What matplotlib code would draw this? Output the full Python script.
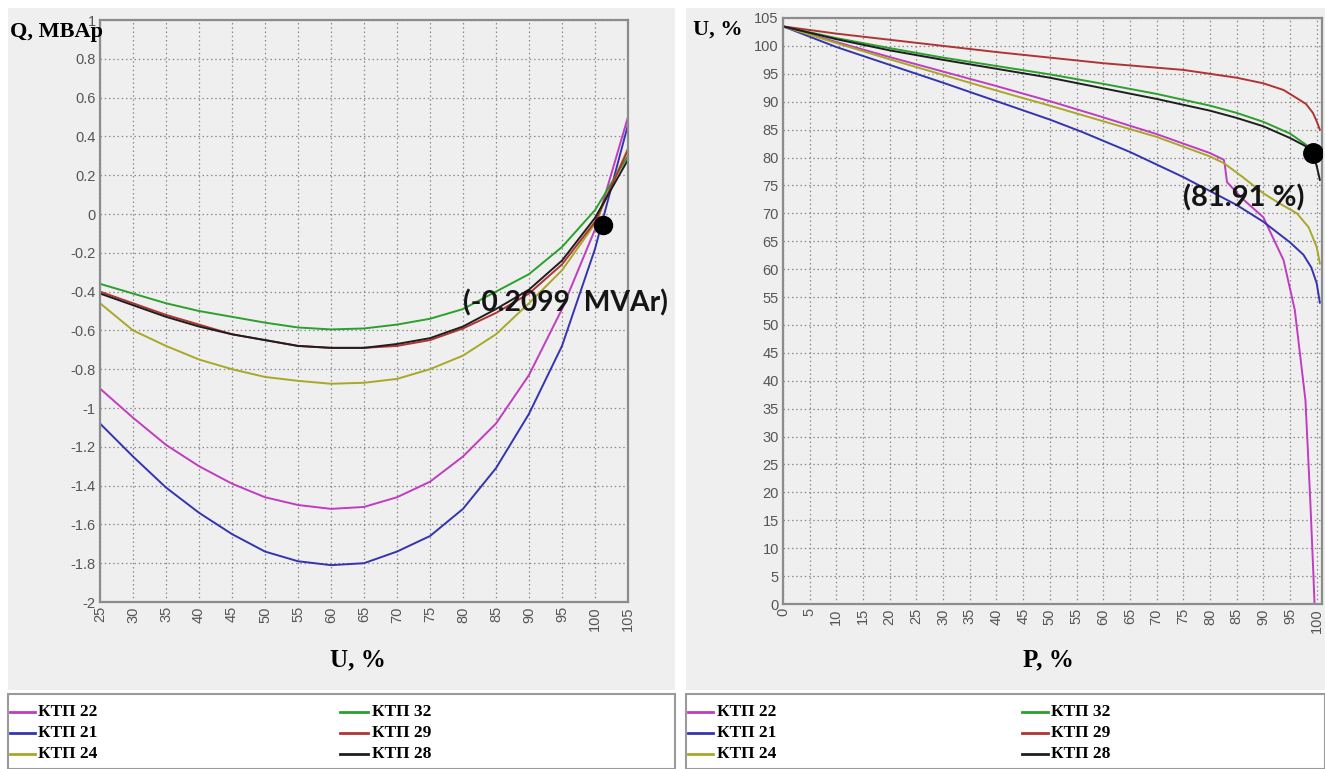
import matplotlib
matplotlib.use('Agg')
import matplotlib.pyplot as plt
from matplotlib.patches import Rectangle
from matplotlib.lines import Line2D
from matplotlib.ticker import FuncFormatter

W, H = 1325, 769

# ---------------- data ----------------
names = ['КТП 22', 'КТП 21', 'КТП 24', 'КТП 32', 'КТП 29', 'КТП 28']
colors = ['#c03cc0', '#3434b0', '#a8a828', '#2ca02c', '#b03434', '#1e1e1e']

# Left chart: Q (MVAr) vs U (%)
u_left = [25, 30, 35, 40, 45, 50, 55, 60, 65, 70, 75, 80, 85, 90, 95, 100, 105]
q_ktp22 = [-0.90, -1.05, -1.19, -1.30, -1.39, -1.46, -1.50, -1.52, -1.51, -1.46, -1.38, -1.25, -1.08, -0.83, -0.49, -0.08, 0.50]
q_ktp21 = [-1.08, -1.25, -1.41, -1.54, -1.65, -1.74, -1.79, -1.81, -1.80, -1.74, -1.66, -1.52, -1.31, -1.03, -0.68, -0.18, 0.46]
q_ktp24 = [-0.46, -0.60, -0.68, -0.75, -0.80, -0.84, -0.86, -0.875, -0.87, -0.85, -0.80, -0.73, -0.62, -0.46, -0.29, -0.05, 0.34]
q_ktp32 = [-0.36, -0.41, -0.46, -0.50, -0.53, -0.56, -0.585, -0.595, -0.59, -0.57, -0.54, -0.49, -0.40, -0.31, -0.17, 0.02, 0.30]
u_ktp29 = [25, 30, 35, 40, 45, 50, 55, 60, 65, 70, 75, 80, 85, 90, 95, 100, 105, 105]
q_ktp29 = [-0.40, -0.46, -0.52, -0.57, -0.62, -0.65, -0.68, -0.69, -0.69, -0.68, -0.65, -0.59, -0.51, -0.41, -0.26, -0.04, 0.33, -0.65]
q_ktp28 = [-0.41, -0.47, -0.53, -0.58, -0.62, -0.65, -0.68, -0.69, -0.69, -0.67, -0.64, -0.58, -0.49, -0.39, -0.24, -0.02, 0.28]
marker_left = (101.2, -0.055)
label_left = '(-0.2099  MVAr)'

# Right chart: U (%) vs P (%)
p_ktp22 = [0, 10, 20, 30, 40, 50, 60, 70, 80, 82.6, 82.8, 83.2, 86, 90, 93.8, 95.9, 97.9, 98.8, 99.4, 99.6]
v_ktp22 = [103.5, 100.7, 98.0, 95.4, 92.8, 90.1, 87.2, 84.2, 80.8, 79.6, 78.6, 75.6, 72.7, 69.3, 61.6, 52.7, 36.5, 18.6, 5.0, 0.0]
p_ktp21 = [0, 10, 20, 30, 40, 50, 56, 65, 75, 85, 90, 95, 97.5, 99, 100, 100.6]
v_ktp21 = [103.5, 99.8, 96.6, 93.4, 90.1, 86.8, 84.6, 81.0, 76.5, 71.5, 68.5, 64.8, 62.6, 60.3, 57.5, 54.0]
p_ktp24 = [0, 10, 20, 30, 40, 50, 60, 70, 80, 82.6, 86, 90, 93, 96.3, 98.5, 100, 100.6]
v_ktp24 = [103.5, 100.5, 97.6, 94.8, 92.0, 89.3, 86.5, 83.7, 80.2, 79.0, 76.6, 73.6, 71.8, 70.0, 67.5, 64.0, 61.0]
p_ktp32 = [0, 10, 20, 30, 40, 50, 60, 70, 80, 85, 90, 95, 98]
v_ktp32 = [103.5, 101.4, 99.6, 97.9, 96.4, 94.9, 93.2, 91.4, 89.3, 88.0, 86.4, 84.3, 82.3]
p_ktp29 = [0, 10, 20, 30, 40, 50, 60, 70, 75, 80, 85, 90, 93.8, 96, 98, 99.3, 100, 100.6]
v_ktp29 = [103.5, 102.2, 101.1, 100.0, 98.9, 97.9, 96.9, 96.1, 95.7, 95.0, 94.3, 93.3, 92.1, 90.8, 89.6, 88.0, 86.5, 85.0]
p_ktp28 = [0, 10, 20, 30, 40, 50, 60, 70, 80, 85, 90, 95, 98, 99.3, 100, 100.6]
v_ktp28 = [103.5, 101.2, 99.2, 97.5, 95.9, 94.3, 92.4, 90.5, 88.4, 87.1, 85.6, 83.5, 82.0, 80.5, 78.5, 76.0]
marker_right = (99.3, 80.8)
label_right = '(81.91 %)'

# ---------------- figure ----------------
fig = plt.figure(figsize=(W / 100, H / 100), dpi=100)
fig.patch.set_facecolor('white')

def fx(x):
    return x / W

def fy(y):
    return 1 - y / H

panel_bg = '#efefef'
for (x0, x1) in [(8, 675), (686, 1325)]:
    fig.patches.append(Rectangle((fx(x0), fy(690)), fx(x1 - x0), (690 - 8) / H,
                                 transform=fig.transFigure, facecolor=panel_bg,
                                 edgecolor='none', zorder=-2))
    fig.patches.append(Rectangle((fx(x0), fy(769)), fx(x1 - x0), (769 - 694) / H,
                                 transform=fig.transFigure, facecolor='white',
                                 edgecolor='#9a9a9a', linewidth=1.5, zorder=-2))

serif = ['Liberation Serif', 'DejaVu Serif']
tickfont = ['Liberation Sans Narrow', 'Liberation Sans', 'DejaVu Sans']
annfont = ['Lato', 'DejaVu Sans']
tick_color = '#555555'

def style_axes(ax):
    ax.set_facecolor(panel_bg)
    for s in ax.spines.values():
        s.set_color('#8c8c8c')
        s.set_linewidth(1.6)
    ax.grid(True, color='#8a8a8a', linestyle=(0, (1.2, 2.2)), linewidth=0.9)
    ax.tick_params(length=0, colors=tick_color, labelsize=10.5, pad=3)
    for lab in ax.get_xticklabels() + ax.get_yticklabels():
        lab.set_family(tickfont)

# Left axes
axL = fig.add_axes([fx(100), fy(602), (628 - 100) / W, (602 - 20) / H])
left_x = [u_left, u_left, u_left, u_left, u_ktp29, u_left]
left_y = [q_ktp22, q_ktp21, q_ktp24, q_ktp32, q_ktp29, q_ktp28]
for xs, ys, c in zip(left_x, left_y, colors):
    axL.plot(xs, ys, color=c, linewidth=1.4, solid_joinstyle='round')
axL.plot([marker_left[0]], [marker_left[1]], 'o', color='black', markersize=13, zorder=5)
axL.set_xlim(25, 105)
axL.set_ylim(-2, 1)
axL.set_xticks(range(25, 106, 5))
axL.set_yticks([round(-2 + 0.2 * i, 1) for i in range(16)])
axL.yaxis.set_major_formatter(FuncFormatter(lambda v, p: ('%g' % round(v, 1))))
style_axes(axL)
for lab in axL.get_xticklabels():
    lab.set_rotation(90)
axL.text(105 + (668 - 628) / 6.6, -0.46, label_left, fontsize=20.3, family=annfont,
         fontweight='bold', color='#151515', ha='right', va='center', zorder=6,
         clip_on=False)

# Right axes
axR = fig.add_axes([fx(783), fy(604), (1322 - 783) / W, (604 - 18) / H])
right_x = [p_ktp22, p_ktp21, p_ktp24, p_ktp32, p_ktp29, p_ktp28]
right_y = [v_ktp22, v_ktp21, v_ktp24, v_ktp32, v_ktp29, v_ktp28]
for xs, ys, c in zip(right_x, right_y, colors):
    axR.plot(xs, ys, color=c, linewidth=1.4, solid_joinstyle='round')
axR.plot([marker_right[0]], [marker_right[1]], 'o', color='black', markersize=14, zorder=5)
axR.set_xlim(0, 101)
axR.set_ylim(0, 105)
axR.set_xticks(range(0, 101, 5))
axR.set_yticks(range(0, 106, 5))
style_axes(axR)
for lab in axR.get_xticklabels():
    lab.set_rotation(90)
axR.text(97.7, 72.8, label_right, fontsize=21, family=annfont, fontweight='bold',
         color='#151515', ha='right', va='center', zorder=6)

# Axis titles
fig.text(fx(10), fy(32), 'Q, MBAp', family=serif, fontweight='bold', fontsize=16,
         ha='left', va='center', color='black')
fig.text(fx(693), fy(30), 'U, %', family=serif, fontweight='bold', fontsize=16,
         ha='left', va='center', color='black')
fig.text(fx(358), fy(660), 'U, %', family=serif, fontweight='bold', fontsize=18,
         ha='center', va='center', color='black')
fig.text(fx(1048), fy(660), 'P, %', family=serif, fontweight='bold', fontsize=18,
         ha='center', va='center', color='black')

# Legends
rows = [712, 733, 754]
legend_cols = {
    'left': [(10, 35, 38), (340, 368, 372)],
    'right': [(688, 713, 717), (1022, 1048, 1051)],
}
for side in ['left', 'right']:
    cols = legend_cols[side]
    for i, (nm, c) in enumerate(zip(names, colors)):
        col = cols[i // 3]
        y = rows[i % 3]
        fig.lines.append(Line2D([fx(col[0]), fx(col[1])], [fy(y), fy(y)],
                                transform=fig.transFigure, color=c, linewidth=2))
        fig.text(fx(col[2]), fy(y), nm, family=serif, fontweight='bold', fontsize=12.5,
                 ha='left', va='center', color='black')

fig.savefig('out.png', dpi=100, facecolor='white')
